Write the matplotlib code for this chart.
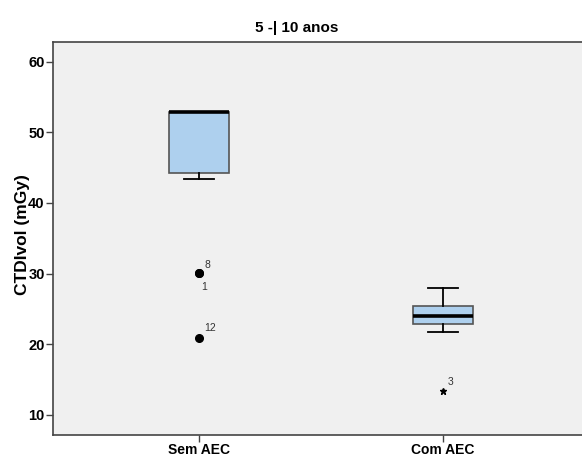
import matplotlib
matplotlib.use('Agg')
import matplotlib.pyplot as plt

plt.rcParams['font.family'] = ['Liberation Sans', 'DejaVu Sans']

groups = ['Sem AEC', 'Com AEC']
whislo = [43.4, 21.7]
q1 = [44.2, 22.9]
med = [52.9, 24.0]
q3 = [52.9, 25.4]
whishi = [52.9, 27.9]

# outliers (circle) and extremes (star) with case numbers
out_group = [1, 1, 1]
out_value = [30.1, 30.1, 20.9]
out_case = ['8', '1', '12']
ext_group = [2]
ext_value = [13.4]
ext_case = ['3']

stats = []
for i in range(len(groups)):
    stats.append(dict(med=med[i], q1=q1[i], q3=q3[i], whislo=whislo[i],
                      whishi=whishi[i], fliers=[]))

fig = plt.figure(figsize=(5.82, 4.59), dpi=100)
ax = fig.add_axes([53/582, 24/459, 536/582, 393/459])
ax.set_facecolor('#f0f0f0')

ax.bxp(stats, positions=[1, 2], widths=0.246, patch_artist=True,
       showfliers=False,
       boxprops=dict(facecolor='#aed0ee', edgecolor='#555555', linewidth=1.2),
       medianprops=dict(color='black', linewidth=2.6),
       whiskerprops=dict(color='black', linewidth=1.3),
       capprops=dict(color='black', linewidth=1.3),
       capwidths=0.123)

ax.plot(out_group, out_value, 'o', color='black', markersize=5.5)
ax.plot(ext_group, ext_value, '*', color='black', markersize=5)

# case labels beside the outliers
ax.annotate(out_case[0], (out_group[0], out_value[0]), xytext=(3.5, 3.5),
            textcoords='offset points', fontsize=7.5, color='#333333')
ax.annotate(out_case[1], (out_group[1], out_value[1]), xytext=(1.5, -12.5),
            textcoords='offset points', fontsize=7.5, color='#333333')
ax.annotate(out_case[2], (out_group[2], out_value[2]), xytext=(3.5, 5),
            textcoords='offset points', fontsize=7.5, color='#333333')
ax.annotate(ext_case[0], (ext_group[0], ext_value[0]), xytext=(3.5, 4),
            textcoords='offset points', fontsize=7.5, color='#333333')

ax.set_xlim(0.4, 2.6)
ax.set_ylim(7.17, 62.77)
ax.set_yticks([10, 20, 30, 40, 50, 60])
ax.set_xticks([1, 2])
ax.set_xticklabels(groups, fontsize=10, fontweight='bold')
for lab in ax.get_yticklabels():
    lab.set_fontsize(10.5)
    lab.set_fontweight('bold')
ax.tick_params(direction='out', length=5, width=1, color='#444444', pad=1)

for s in ['left', 'bottom', 'top']:
    ax.spines[s].set_color('#444444')
    ax.spines[s].set_linewidth(1.2)
ax.spines['right'].set_visible(False)

fig.text(23/582, 1 - 235/459, 'CTDIvol (mGy)', rotation=90, fontsize=12.5,
         fontweight='bold', ha='center', va='center')
fig.text(297/582, 1 - 28/459, '5 -| 10 anos', fontsize=11,
         fontweight='bold', ha='center', va='center')

fig.savefig('out.png', dpi=100, facecolor='white')
